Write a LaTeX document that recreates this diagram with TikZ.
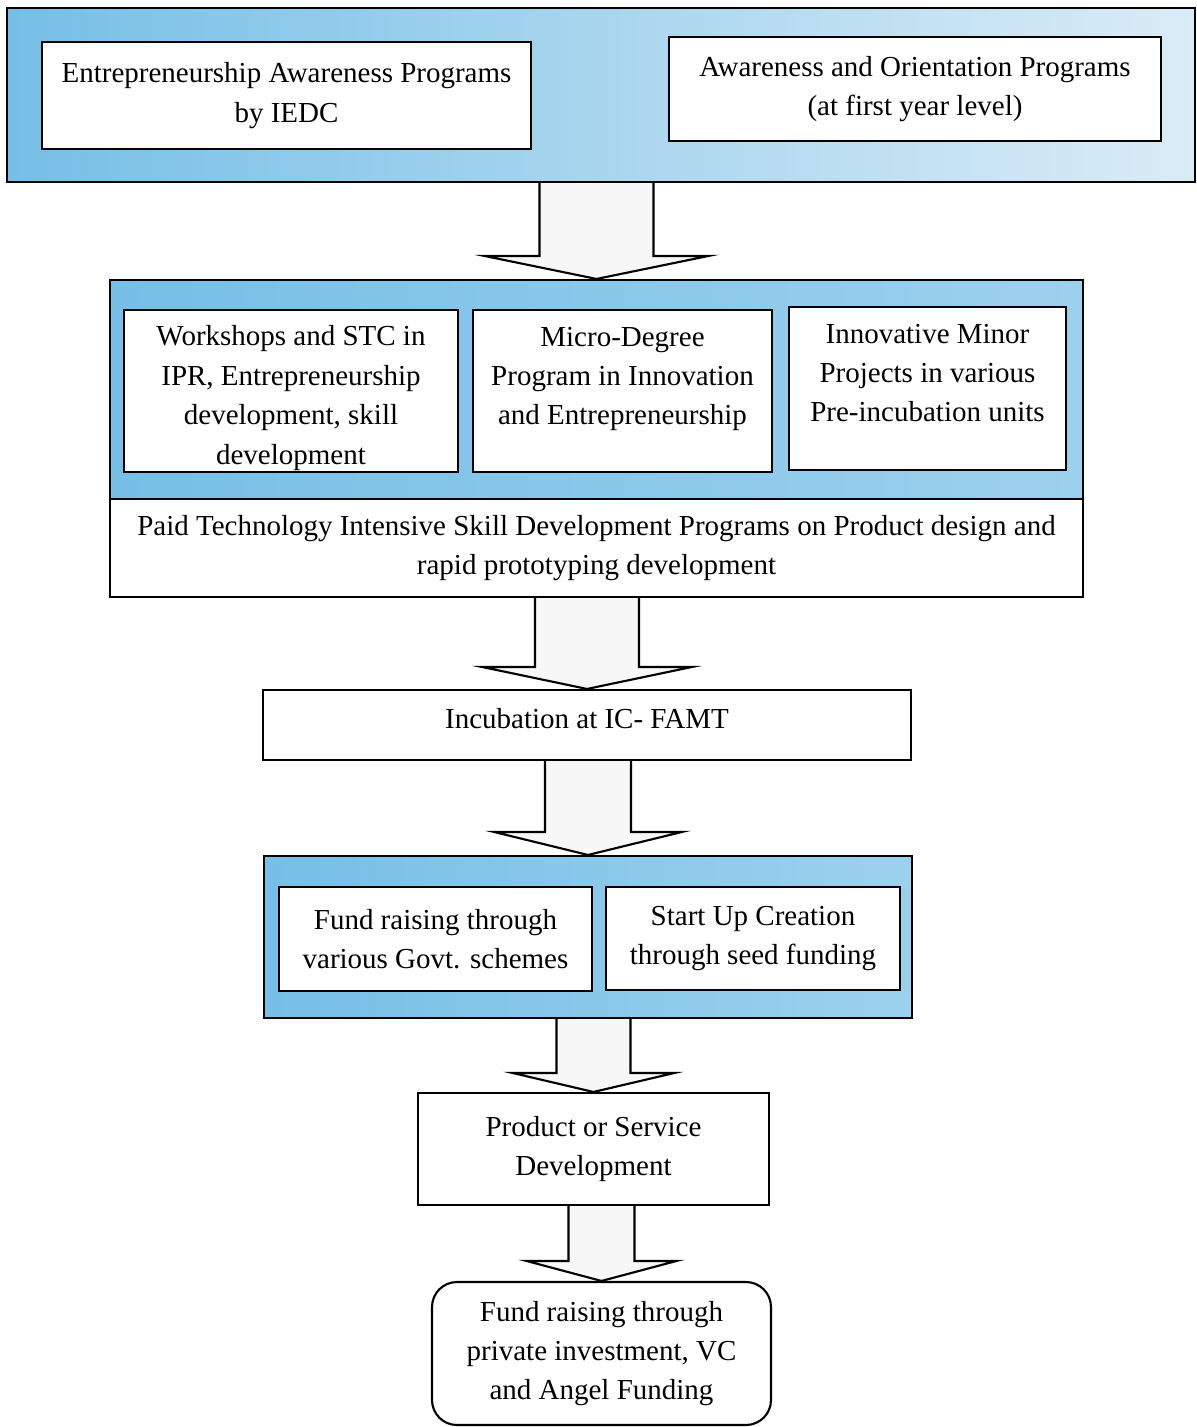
\documentclass[tikz,border=0pt]{standalone}
\usepackage{fontspec}
\setmainfont{Liberation Serif}
\usepackage{xcolor}
\usepackage{tikz}
\usetikzlibrary{calc,positioning}
\definecolor{panelblue}{RGB}{118,191,230}
\definecolor{panelpale}{RGB}{218,236,246}

\begin{document}
\begin{tikzpicture}[
    panel/.style={draw, line width=1.2pt, left color=panelblue, right color=panelblue!72!white},
    whitebox/.style={draw, line width=1.2pt, fill=white, align=center, font=\fontsize{16.5}{22.4}\selectfont},
    boxtext/.style={align=center, inner sep=0pt, font=\fontsize{16.5}{22.4}\selectfont},
    blockarrow/.style={draw, line width=1.2pt, fill=gray!6, line join=miter}
]
    \useasboundingbox (0,0) rectangle (23.94,-28.54);

    \node [panel, right color=panelpale, minimum width=23.76cm, minimum height=3.48cm] (awareness) at (12.02,-1.90) {};
    \node [whitebox, text depth=0.12cm, minimum width=9.78cm, minimum height=2.14cm] (iedc) at (5.73,-1.91) {Entrepreneurship Awareness Programs\\by IEDC};
    \node [whitebox, minimum width=9.84cm, minimum height=2.08cm] (orient) at (18.30,-1.78) {Awareness and Orientation Programs\\(at first year level)};

    \node [panel, minimum width=19.46cm, minimum height=4.38cm] (skills) at (11.93,-7.79) {};
    \node [whitebox, minimum width=6.68cm, minimum height=3.24cm] (workshop) at (5.82,-7.82) {};
    \node [whitebox, minimum width=5.98cm, minimum height=3.24cm] (microdeg) at (12.45,-7.82) {};
    \node [whitebox, minimum width=5.54cm, minimum height=3.26cm] (minorproj) at (18.55,-7.77) {};
    \node [boxtext, below=0.33cm of workshop.north] (workshoptext) {Workshops and STC in\\IPR, Entrepreneurship\\development, skill\\development};
    \node [boxtext, below=0.35cm of microdeg.north] (microdegtext) {Micro-Degree\\Program in Innovation\\and Entrepreneurship};
    \node [boxtext, below=0.35cm of minorproj.north] (minorprojtext) {Innovative Minor\\Projects in various\\Pre-incubation units};
    \node [whitebox, minimum width=19.46cm, minimum height=1.96cm] (paid) at (11.93,-10.96) {Paid Technology Intensive Skill Development Programs on Product design and\\rapid prototyping development};

    \node [whitebox, text depth=0.28cm, minimum width=12.96cm, minimum height=1.40cm] (inc) at (11.74,-14.50) {Incubation at IC- FAMT};

    \node [panel, minimum width=12.96cm, minimum height=3.24cm] (funding) at (11.76,-18.74) {};
    \node [whitebox, minimum width=6.26cm, minimum height=2.08cm] (govt) at (8.71,-18.78) {Fund raising through\\various Govt. schemes};
    \node [whitebox, minimum width=5.88cm, minimum height=2.06cm] (seed) at (15.06,-18.77) {Start Up Creation\\through seed funding};

    \node [whitebox, minimum width=7.02cm, minimum height=2.24cm] (prod) at (11.87,-22.98) {Product or Service\\Development};
    \node [whitebox, rounded corners=0.5cm, minimum width=6.78cm, minimum height=2.86cm] (angel) at (12.03,-27.07) {Fund raising through\\private investment, VC\\and Angel Funding};

    \foreach \from/\to/\sw/\hw/\hl in {awareness/skills/1.14cm/2.24cm/0.46cm, paid/inc/1.04cm/2.10cm/0.44cm, inc/funding/0.86cm/1.88cm/0.46cm, funding/prod/0.74cm/1.62cm/0.38cm, prod/angel/0.66cm/1.50cm/0.40cm}
        \draw [blockarrow] let \p1 = (\from.south), \p2 = (\to.north) in
            (\x2-\sw,\y1) -- (\x2-\sw,\y2+\hl) -- (\x2-\hw,\y2+\hl) -- (\x2,\y2)
            -- (\x2+\hw,\y2+\hl) -- (\x2+\sw,\y2+\hl) -- (\x2+\sw,\y1);
\end{tikzpicture}
\end{document}
